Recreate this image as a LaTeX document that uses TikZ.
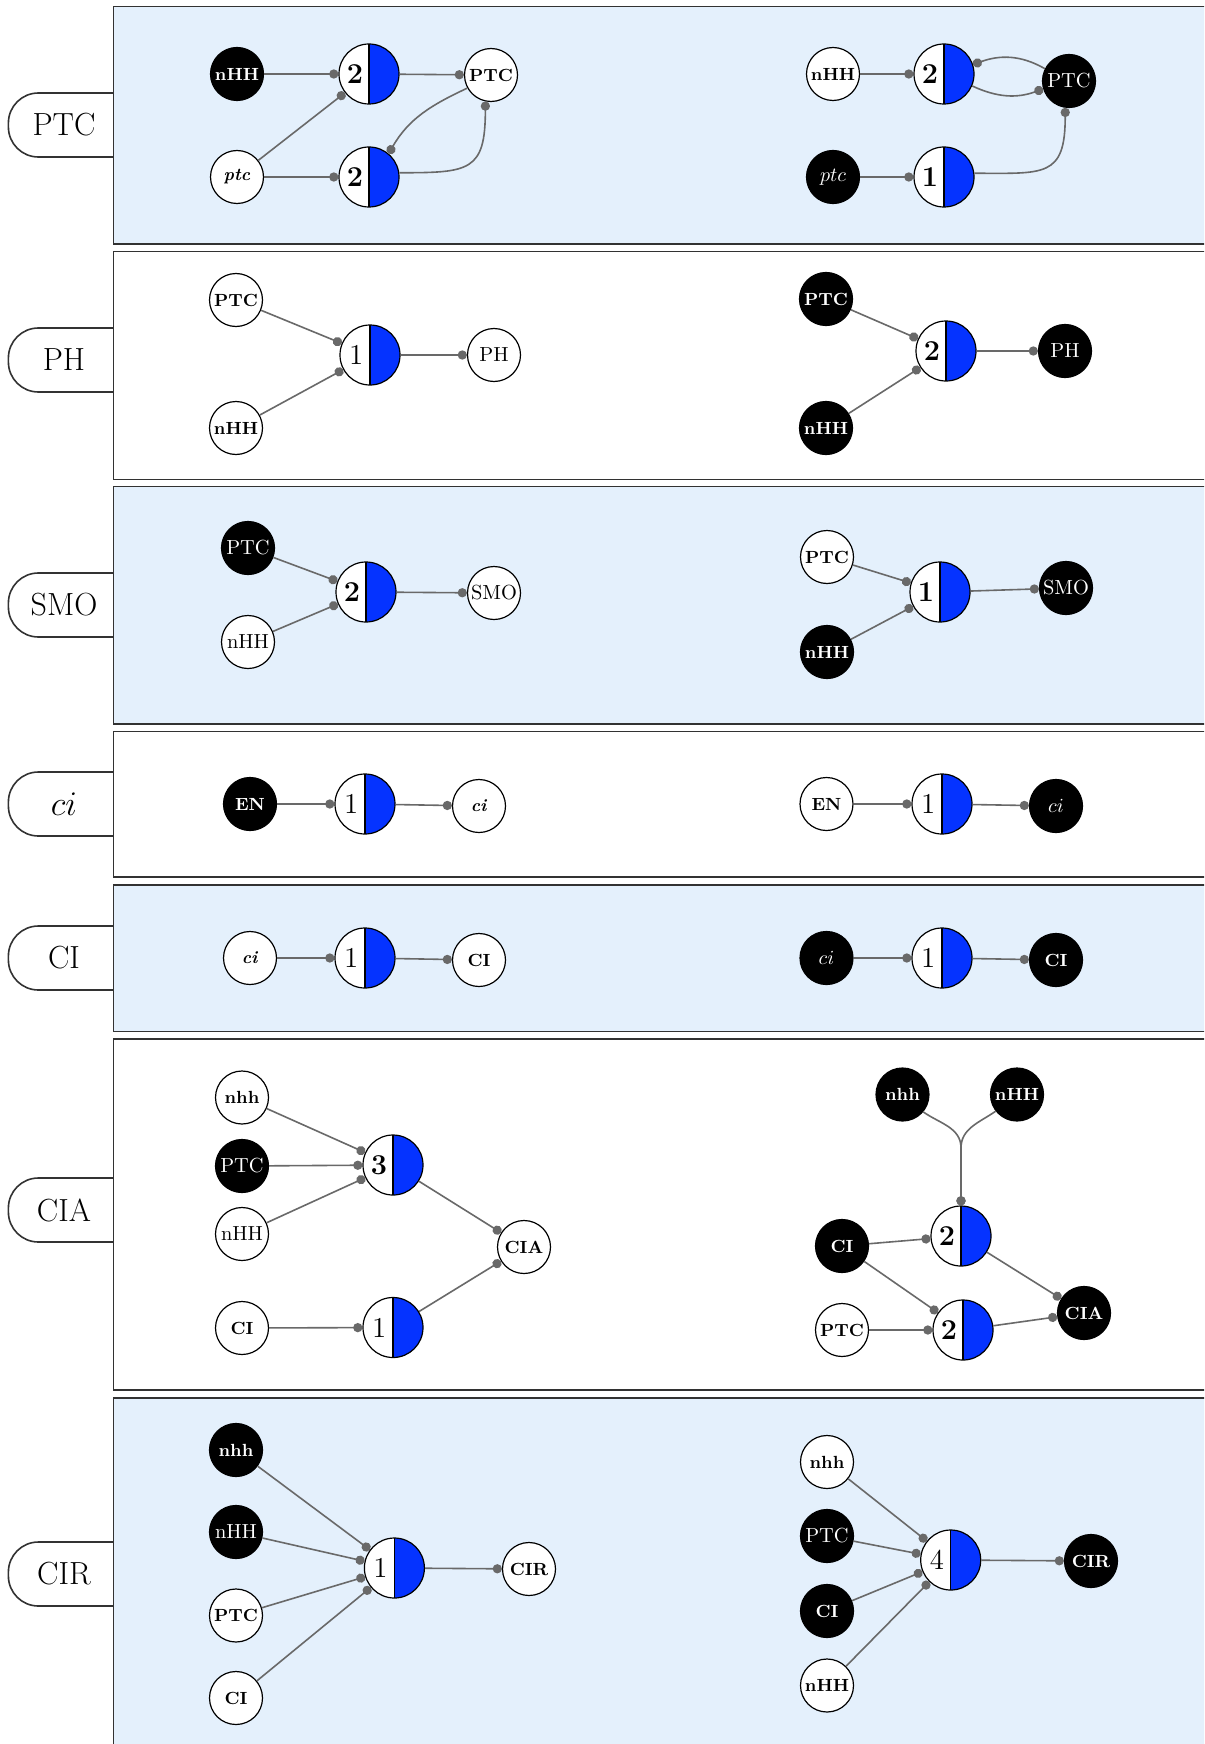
\documentclass[tikz,border=0pt]{standalone}
\usepackage{fontspec}
\usetikzlibrary{arrows.meta}
\definecolor{spblue}{RGB}{5,51,255}
\definecolor{panelblue}{RGB}{228,240,252}
\definecolor{panelgray}{RGB}{50,50,50}
\definecolor{edgegray}{RGB}{105,105,105}
\newcommand{\dgb}[1]{\llap{\textbf{#1}\kern3pt}}
\newcommand{\dgn}[1]{\llap{#1\kern3.4pt}}
\newcommand{\bit}[1]{\textbf{\textit{#1}}}
\newcommand{\rowtab}[3]{%
  \filldraw[tabst] (113.6,#2-32) -- (8.4,#2-32) -- (8.4,#2+32) -- (113.6,#2+32);
  \node[rowlab] (#1) at (64,#2) {#3};}
\begin{document}
\begin{tikzpicture}[x=0.5pt,y=-0.5pt,
  tabst/.style={draw=panelgray,line width=0.8pt,fill=white,rounded corners=15pt},
  rowlab/.style={inner sep=0pt,font=\fontsize{16}{19}\selectfont},
  panelb/.style={draw=panelgray,line width=0.8pt,fill=panelblue},
  panelw/.style={draw=panelgray,line width=0.8pt,fill=white},
  inw/.style={circle,draw=black,line width=0.6pt,fill=white,minimum size=26.5pt,inner sep=0.5pt,font=\fontsize{8.8}{10}\selectfont\bfseries},
  inb/.style={circle,draw=black,line width=0.6pt,fill=black,text=white,minimum size=26.5pt,inner sep=0.5pt,font=\fontsize{8.8}{10}\selectfont\bfseries},
  rg/.style={font=\fontsize{10.2}{12}\selectfont\mdseries},
  sp/.style={circle,draw=black,line width=0.6pt,fill=white,minimum size=30pt,inner sep=0pt,
    font=\fontsize{14.4}{16}\selectfont,
    path picture={\fill[spblue] (path picture bounding box.north) rectangle (path picture bounding box.south east);
      \draw[line width=0.6pt] (path picture bounding box.north) -- (path picture bounding box.south);}},
  ed/.style={draw=edgegray,line width=0.8pt,-{Circle[length=4.6pt]}}
]
\useasboundingbox (0,0) rectangle (1204,1744);
\clip (0,0) rectangle (1204,1744);

% tabs
\rowtab{tPTC}{125}{PTC}
\rowtab{tPH}{360}{PH}
\rowtab{tSMO}{605}{SMO}
\rowtab{tci}{804}{$ci$}
\rowtab{tCI}{958}{CI}
\rowtab{tCIA}{1210}{CIA}
\rowtab{tCIR}{1574}{CIR}

% panels
\path[panelb] (113.6,6.7) rectangle (1215,244);
\path[panelw] (113.6,251.7) rectangle (1215,479.3);
\path[panelb] (113.6,486.3) rectangle (1215,724);
\path[panelw] (113.6,731.5) rectangle (1215,876.8);
\path[panelb] (113.6,884.8) rectangle (1215,1031.4);
\path[panelw] (113.6,1039.2) rectangle (1215,1390);
\path[panelb] (113.6,1397.8) rectangle (1215,1760);

% ---------- row 1: PTC
\node[inb] (a1) at (237,74) {nHH};
\node[sp]  (a2) at (369,74) {\dgb{2}};
\node[inw] (a3) at (491,75) {PTC};
\node[inw] (a4) at (237,177) {\bit{ptc}};
\node[sp]  (a5) at (369,177) {\dgb{2}};
\draw[ed] (a1) -- (a2);
\draw[ed] (a4) -- (a2);
\draw[ed] (a4) -- (a5);
\draw[ed] (a2) -- (a3);
\draw[ed] (a3.209) to[out=205,in=60] (a5.50);
\draw[ed] (a5.8) to[out=0,in=-90,looseness=1.6] (a3.-102);

\node[inw] (b1) at (833,74) {nHH};
\node[sp]  (b2) at (944,74) {\dgb{2}};
\node[inb,rg] (b3) at (1069,81) {PTC};
\node[inb,rg] (b4) at (833,177) {$ptc$};
\node[sp]  (b5) at (944,177) {\dgb{1}};
\draw[ed] (b1) -- (b2);
\draw[ed] (b3.153) to[out=150,in=20] (b2.18);
\draw[ed] (b2.-23) to[out=-25,in=200] (b3.197);
\draw[ed] (b4) -- (b5);
\draw[ed] (b5.7) to[out=0,in=-90,looseness=1.6] (b3.-98);

% ---------- row 2: PH
\node[inw] (c1) at (236,300) {PTC};
\node[sp]  (c2) at (370,355) {\dgn{1}};
\node[inw,rg] (c3) at (494,355) {PH};
\node[inw] (c4) at (236,428) {nHH};
\draw[ed] (c1) -- (c2);
\draw[ed] (c4) -- (c2);
\draw[ed] (c2) -- (c3);

\node[inb] (d1) at (826,299) {PTC};
\node[sp]  (d2) at (946,351) {\dgb{2}};
\node[inb,rg] (d3) at (1065,351) {PH};
\node[inb] (d4) at (826,428) {nHH};
\draw[ed] (d1) -- (d2);
\draw[ed] (d4) -- (d2);
\draw[ed] (d2) -- (d3);

% ---------- row 3: SMO
\node[inb,rg] (e1) at (248,548) {PTC};
\node[sp]  (e2) at (366,592) {\dgb{2}};
\node[inw,rg] (e3) at (494,593) {SMO};
\node[inw,rg] (e4) at (248,642) {nHH};
\draw[ed] (e1) -- (e2);
\draw[ed] (e4) -- (e2);
\draw[ed] (e2) -- (e3);

\node[inw] (f1) at (827,557) {PTC};
\node[sp]  (f2) at (940,592) {\dgb{1}};
\node[inb,rg] (f3) at (1066,588) {SMO};
\node[inb] (f4) at (827,652) {nHH};
\draw[ed] (f1) -- (f2);
\draw[ed] (f4) -- (f2);
\draw[ed] (f2) -- (f3);

% ---------- row 4: ci
\node[inb] (g1) at (250,804) {EN};
\node[sp]  (g2) at (365,804) {\dgn{1}};
\node[inw] (g3) at (479,806) {\bit{ci}};
\draw[ed] (g1) -- (g2);
\draw[ed] (g2) -- (g3);

\node[inw] (h1) at (826.5,804) {EN};
\node[sp]  (h2) at (942,804) {\dgn{1}};
\node[inb,rg] (h3) at (1056,806) {$ci$};
\draw[ed] (h1) -- (h2);
\draw[ed] (h2) -- (h3);

% ---------- row 5: CI
\node[inw] (i1) at (250,958) {\bit{ci}};
\node[sp]  (i2) at (365,958) {\dgn{1}};
\node[inw] (i3) at (479,960) {CI};
\draw[ed] (i1) -- (i2);
\draw[ed] (i2) -- (i3);

\node[inb,rg] (j1) at (826.5,958) {$ci$};
\node[sp]  (j2) at (942,958) {\dgn{1}};
\node[inb] (j3) at (1056,960) {CI};
\draw[ed] (j1) -- (j2);
\draw[ed] (j2) -- (j3);

% ---------- row 6: CIA
\node[inw] (k1) at (242,1097.5) {nhh};
\node[inb,rg] (k2) at (242,1166) {PTC};
\node[inw,rg] (k3) at (242,1234) {nHH};
\node[inw] (k4) at (242,1328) {CI};
\node[sp]  (k5) at (393,1165) {\dgb{3}};
\node[sp]  (k6) at (393,1327.5) {\dgn{1}};
\node[inw] (k7) at (524,1247) {CIA};
\draw[ed] (k1) -- (k5);
\draw[ed] (k2) -- (k5);
\draw[ed] (k3) -- (k5);
\draw[ed] (k4) -- (k6);
\draw[ed] (k5) -- (k7);
\draw[ed] (k6) -- (k7);

\node[inb] (l1) at (902.5,1094.5) {nhh};
\node[inb] (l2) at (1017,1094.5) {nHH};
\node[sp]  (l3) at (961,1236) {\dgb{2}};
\node[inb] (l4) at (842,1246) {CI};
\node[inw] (l5) at (842,1330) {PTC};
\node[sp]  (l6) at (963,1330) {\dgb{2}};
\node[inb] (l7) at (1084,1313) {CIA};
\coordinate (ljoin) at (961,1148);
\draw[ed] (l1.-40) to[out=-35,in=90] (ljoin) -- (l3.north);
\draw[ed] (l2.-142) to[out=-145,in=90] (ljoin) -- (l3.north);
\draw[ed] (l4) -- (l3);
\draw[ed] (l4) -- (l6);
\draw[ed] (l5) -- (l6);
\draw[ed] (l3) -- (l7);
\draw[ed] (l6) -- (l7);

% ---------- row 7: CIR
\node[inb] (m1) at (236,1450) {nhh};
\node[inb,rg] (m2) at (236,1532) {nHH};
\node[inw] (m3) at (236,1615.5) {PTC};
\node[inw] (m4) at (236,1698) {CI};
\node[sp]  (m5) at (394.4,1568) {\dgn{1}};
\node[inw] (m6) at (529,1569) {CIR};
\draw[ed] (m1) -- (m5);
\draw[ed] (m2) -- (m5);
\draw[ed] (m3) -- (m5);
\draw[ed] (m4) -- (m5);
\draw[ed] (m5) -- (m6);

\node[inw] (n1) at (827,1462) {nhh};
\node[inb,rg] (n2) at (827,1536) {PTC};
\node[inb] (n3) at (827,1611) {CI};
\node[inw] (n4) at (827,1685.5) {nHH};
\node[sp]  (n5) at (950.7,1560) {\dgn{4}};
\node[inb] (n6) at (1091,1561) {CIR};
\draw[ed] (n1) -- (n5);
\draw[ed] (n2) -- (n5);
\draw[ed] (n3) -- (n5);
\draw[ed] (n4) -- (n5);
\draw[ed] (n5) -- (n6);
\end{tikzpicture}
\end{document}
